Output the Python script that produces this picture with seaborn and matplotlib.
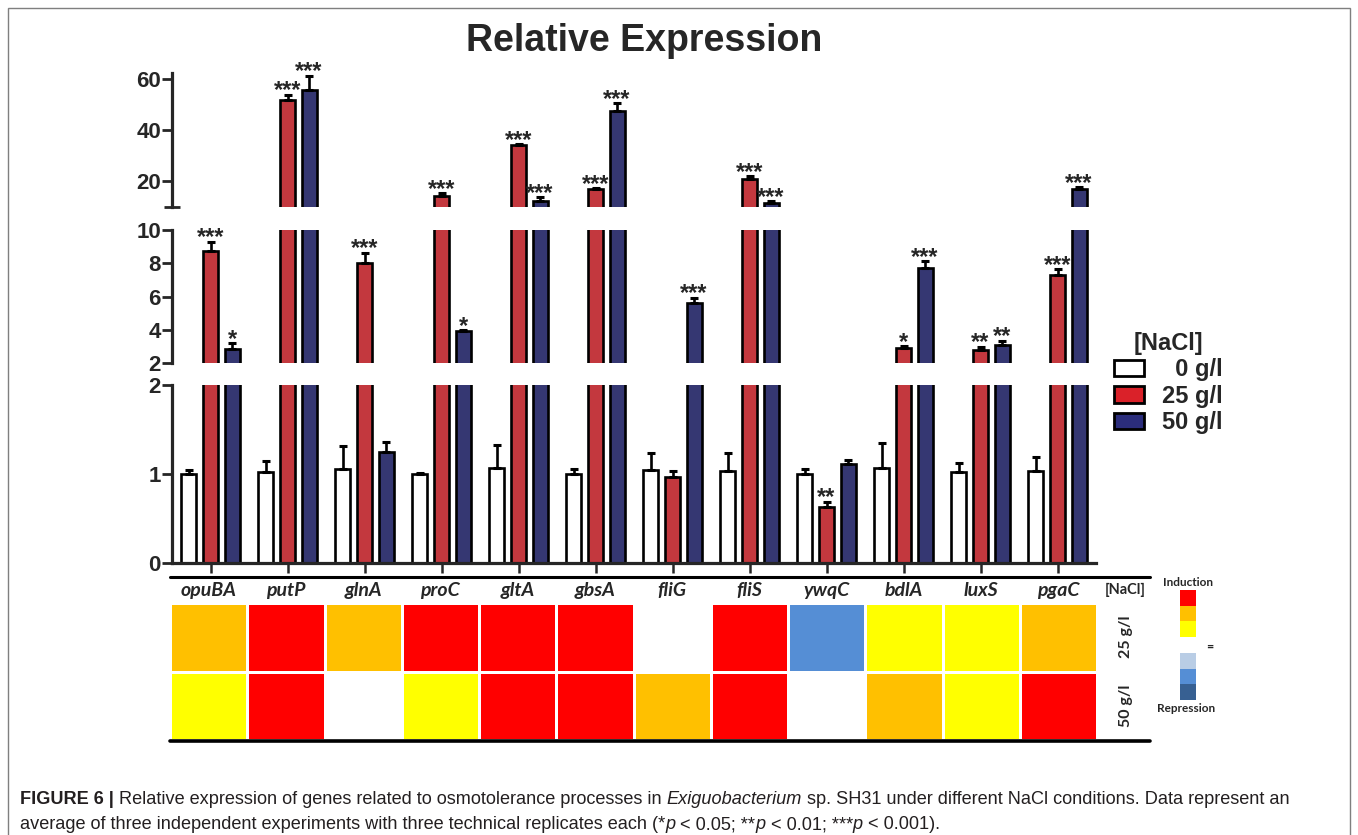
import matplotlib
matplotlib.use("Agg")
import matplotlib.pyplot as plt
import seaborn as sns
import numpy as np
import pandas as pd
from matplotlib.colors import ListedColormap
from matplotlib.patches import Patch, Rectangle
from matplotlib.lines import Line2D
from matplotlib import font_manager

# Data

genes = ["opuBA", "putP", "glnA", "proC", "gltA", "gbsA",
         "fliG", "fliS", "ywqC", "bdlA", "luxS", "pgaC"]
conditions = ["0 g/l", "25 g/l", "50 g/l"]

mean_0 = [1.00, 1.02, 1.06, 1.00, 1.07, 1.00, 1.04, 1.03, 1.00, 1.07, 1.02, 1.03]
sd_0 = [0.04, 0.13, 0.26, 0.01, 0.26, 0.06, 0.20, 0.21, 0.06, 0.28, 0.10, 0.16]
mean_25 = [8.76, 51.8, 8.00, 14.1, 34.0, 17.0, 0.97, 20.7, 0.63, 2.92, 2.82, 7.28]
sd_25 = [0.54, 2.1, 0.64, 1.3, 0.4, 0.3, 0.06, 1.4, 0.06, 0.10, 0.18, 0.38]
mean_50 = [2.84, 55.6, 1.25, 3.94, 12.4, 47.6, 5.60, 11.5, 1.11, 7.70, 3.08, 17.1]
sd_50 = [0.36, 5.8, 0.11, 0.03, 1.3, 2.9, 0.34, 0.7, 0.05, 0.44, 0.28, 0.7]

stars_0 = [""] * 12
stars_25 = ["***", "***", "***", "***", "***", "***", "", "***", "**", "*", "**", "***"]
stars_50 = ["*", "***", "", "*", "***", "***", "***", "***", "", "***", "**", "***"]

# heatmap levels: 3 strong induction ... -3 strong repression, 0 unchanged
heat_25 = [2, 3, 2, 3, 3, 3, 0, 3, -2, 1, 1, 2]
heat_50 = [1, 3, 0, 1, 3, 3, 2, 3, 0, 2, 1, 3]
heat_rows = ["25 g/l", "50 g/l"]

bar_colors = ["#FFFFFF", "#DA2129", "#2B2D7C"]
heat_colors = ["#376092", "#558ED5", "#B9CDE5", "#FFFFFF", "#FFFF00", "#FFC000", "#FF0000"]

# Style

sns.set_style("ticks")
plt.rcParams["font.family"] = ["Liberation Sans", "DejaVu Sans"]
names = {f.name for f in font_manager.fontManager.ttflist}
cal = "Lato" if "Lato" in names else "Liberation Sans"
narrow = "Liberation Sans Narrow" if "Liberation Sans Narrow" in names else "Liberation Sans"

W, H = 1358, 835
fig = plt.figure(figsize=(W / 100, H / 100), dpi=100)


def fx(px):
    return px / W


def fy(px):
    return 1 - px / H


df = pd.DataFrame({
    "gene": genes * 3,
    "nacl": np.repeat(conditions, len(genes)),
    "value": mean_0 + mean_25 + mean_50,
})
sds = [sd_0, sd_25, sd_50]
means = [mean_0, mean_25, mean_50]
stars = [stars_0, stars_25, stars_50]

left, width = fx(172), fx(1096) - fx(172)
ax_top = fig.add_axes([left, fy(206.7), width, (206.7 - 73.3) / H])
ax_mid = fig.add_axes([left, fy(363.3), width, (363.3 - 230) / H])
ax_bot = fig.add_axes([left, fy(563), width, (563 - 385) / H])
axes = [ax_top, ax_mid, ax_bot]
limits = [(10, 62.3), (2, 10), (0, 2)]
bar_conts = {}

for ax, (lo, hi) in zip(axes, limits):
    sns.barplot(data=df, x="gene", y="value", hue="nacl", hue_order=conditions,
                palette=bar_colors, edgecolor="black", linewidth=1.9,
                width=0.84, gap=0.3, errorbar=None, legend=False, ax=ax)
    conts = list(ax.containers[:3])
    bar_conts[ax] = conts
    for k, cont in enumerate(conts):
        # only the error bars that actually show in this segment
        keep = [i for i in range(len(genes))
                if means[k][i] < hi and means[k][i] + sds[k][i] > lo]
        if not keep:
            continue
        xs = [cont[i].get_x() + cont[i].get_width() / 2 for i in keep]
        ys = [means[k][i] for i in keep]
        up = [sds[k][i] for i in keep]
        ax.errorbar(xs, ys, yerr=[np.zeros(len(xs)), up], fmt="none",
                    ecolor="black", elinewidth=1.9, capsize=3, capthick=2.2, zorder=1)
    ax.set_ylim(lo, hi)
    ax.set_xlim(-0.5, len(genes) - 0.5)
    ax.set_xlabel("")
    ax.set_ylabel("")
    sns.despine(ax=ax, top=True, right=True)
    ax.spines["left"].set_linewidth(2.3)
    ax.tick_params(axis="y", length=7, width=2, pad=1, labelsize=16)

ax_top.set_yticks([20, 40, 60])
ax_top.set_yticks([10], minor=True)
ax_top.tick_params(axis="y", which="minor", direction="inout", length=12, width=2)
ax_mid.set_yticks([2, 4, 6, 8, 10])
ax_bot.set_yticks([0, 1, 2])
for ax in axes:
    ax.set_yticklabels([str(int(t)) for t in ax.get_yticks()], fontweight="bold", fontsize=16)

for ax in (ax_top, ax_mid):
    ax.spines["bottom"].set_visible(False)
    ax.set_xticks([])
ax_bot.spines["bottom"].set_linewidth(2.3)
ax_bot.tick_params(axis="x", length=7, width=1.8, labelbottom=False)

# significance stars, put on whichever segment holds the error-bar top
for k in range(3):
    for i, b in enumerate(bar_conts[ax_bot][k]):
        s = stars[k][i]
        if not s:
            continue
        top = means[k][i] + sds[k][i]
        ax = ax_bot if top <= 2 else (ax_mid if top <= 10 else ax_top)
        ax.annotate(s, (b.get_x() + b.get_width() / 2, top), xytext=(0, -2),
                    textcoords="offset points", ha="center", va="baseline",
                    fontsize=17, fontweight="bold", annotation_clip=False)

# Title
fig.text(fx(644), fy(41), "Relative Expression", ha="center", va="center",
         fontsize=27, fontweight="bold")

# Legend
handles = [Patch(facecolor=c, edgecolor="black", linewidth=2) for c in bar_colors]
fig.legend(handles, ["  0 g/l", "25 g/l", "50 g/l"], title="[NaCl]",
           loc="upper left", bbox_to_anchor=(fx(1097), fy(315)), frameon=False,
           prop={"weight": "bold", "size": 17},
           title_fontproperties={"weight": "bold", "size": 17},
           handlelength=1.3, handleheight=0.7, labelspacing=0.15, handletextpad=0.75,
           borderpad=0.2)

# Heatmap under the bars
cmap = ListedColormap(heat_colors)
hax = fig.add_axes([fx(170), fy(740), fx(1097) - fx(170), (740 - 603) / H])
sns.heatmap(np.array([heat_25, heat_50]), cmap=cmap, vmin=-3.5, vmax=3.5, cbar=False,
            linewidths=2, linecolor="white", xticklabels=genes, yticklabels=False, ax=hax)
hax.xaxis.tick_top()
hax.tick_params(axis="x", length=0, pad=3)
hax.set_xticklabels(genes, rotation=0, fontsize=14, fontweight="bold",
                    fontstyle="italic", family=cal)
hax.text(12.37, -0.19, "[NaCl]", ha="center", va="center", fontsize=10.5,
         fontweight="bold", family=cal)
for r, lab in enumerate(heat_rows):
    hax.text(12.37, r + 0.5, lab, ha="center", va="center", rotation=90,
             fontsize=11.5, fontweight="bold", family=cal)

for ypx, lw in ((577, 2.2), (741, 2.6)):
    fig.add_artist(Line2D([fx(170), fx(1150)], [fy(ypx), fy(ypx)], color="black", lw=lw))

# Induction / repression key
kax = fig.add_axes([fx(1180), fy(700), fx(16), (700 - 590) / H])
sns.heatmap(np.array([[3], [2], [1], [0], [-1], [-2], [-3]]), cmap=cmap, vmin=-3.5,
            vmax=3.5, cbar=False, xticklabels=False, yticklabels=False, ax=kax)
fig.text(fx(1188), fy(583), "Induction", ha="center", va="center", fontsize=8.5,
         fontweight="bold", family=cal)
fig.text(fx(1186), fy(708), "Repression", ha="center", va="center", fontsize=8.5,
         fontweight="bold", family=cal)
fig.text(fx(1210), fy(647), "=", ha="center", va="center", fontsize=9,
         fontweight="bold", family=cal)

# Outer frame
fig.add_artist(Rectangle((fx(8), -0.1), fx(1350) - fx(8), fy(8) + 0.1, fill=False,
                         edgecolor="#7f7f7f", lw=1, transform=fig.transFigure))

# Caption, built from styled pieces
renderer = fig.canvas.get_renderer()


def seg_width(text, size, **kw):
    t1 = fig.text(0, 0, text + "x", fontsize=size, family=narrow, **kw)
    t2 = fig.text(0, 0, "x", fontsize=size, family=narrow, **kw)
    w = t1.get_window_extent(renderer).width - t2.get_window_extent(renderer).width
    t1.remove()
    t2.remove()
    return w


line1 = [("FIGURE 6 | ", {"fontweight": "bold"}),
         ("Relative expression of genes related to osmotolerance processes in ", {}),
         ("Exiguobacterium", {"fontstyle": "italic"}),
         (" sp. SH31 under different NaCl conditions. Data represent an", {})]
line2 = [("average of three independent experiments with three technical replicates each (*", {}),
         ("p", {"fontstyle": "italic"}), (" < 0.05; **", {}), ("p", {"fontstyle": "italic"}),
         (" < 0.01; ***", {}), ("p", {"fontstyle": "italic"}), (" < 0.001).", {})]

base = 12
w1 = sum(seg_width(t, base, **kw) for t, kw in line1)
size = base * (1292 - 20) / w1


def write_line(segments, ypx):
    x = 20
    for t, kw in segments:
        fig.text(fx(x), fy(ypx), t, fontsize=size, family=narrow, va="baseline",
                 ha="left", color="#231f20", **kw)
        x += seg_width(t, size, **kw)


write_line(line1, 804)
write_line(line2, 829)

fig.savefig("out.png", dpi=100)
